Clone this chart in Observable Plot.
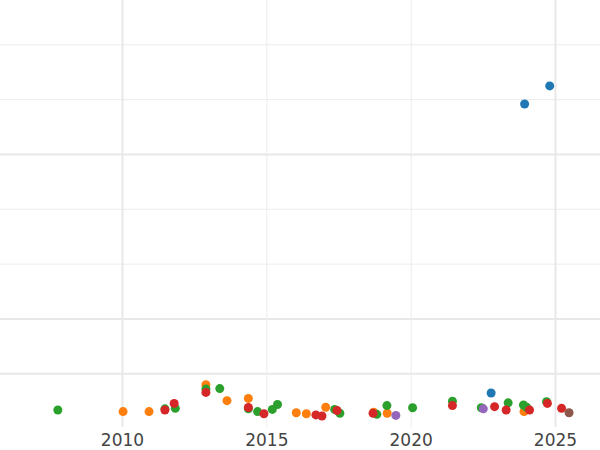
<!DOCTYPE html>
<html>
<head>
<meta charset="utf-8">
<script src="https://cdn.jsdelivr.net/npm/d3@7"></script>
<script src="https://cdn.jsdelivr.net/npm/@observablehq/plot@0.6"></script>
<style>
  html, body { margin: 0; padding: 0; background: #fff; }
  #chart { width: 600px; height: 450px; }
</style>
</head>
<body>
<div id="chart"></div>
<script>
// ---- data ----
const seriesNames = ["Series 1", "Series 2", "Series 3", "Series 4", "Series 5", "Series 6"];
const seriesColors = ["#1f77b4", "#ff7f0e", "#2ca02c", "#d62728", "#9467bd", "#8c564b"];

const s1Years  = [2022.77, 2023.93, 2024.80];
const s1Values = [0.65, 5.92, 6.25];

const s2Years  = [2010.02, 2010.92, 2012.89, 2013.62, 2014.36, 2016.02, 2016.37, 2017.04, 2018.70, 2019.17, 2023.91];
const s2Values = [0.31, 0.31, 0.80, 0.51, 0.55, 0.29, 0.27, 0.39, 0.30, 0.28, 0.31];

const s3Years  = [2007.76, 2011.47, 2011.83, 2012.89, 2013.37, 2014.36, 2014.68, 2015.19, 2015.37, 2017.35, 2017.53, 2018.81, 2019.16, 2020.05, 2021.43, 2022.43, 2023.36, 2023.89, 2024.00, 2024.69];
const s3Values = [0.34, 0.36, 0.37, 0.72, 0.73, 0.36, 0.31, 0.35, 0.44, 0.35, 0.28, 0.26, 0.42, 0.38, 0.50, 0.38, 0.47, 0.43, 0.39, 0.49];

const s4Years  = [2011.47, 2011.79, 2012.89, 2014.36, 2014.90, 2016.70, 2016.91, 2017.43, 2018.68, 2021.43, 2022.89, 2023.29, 2024.10, 2024.72, 2025.21];
const s4Values = [0.34, 0.46, 0.66, 0.385, 0.27, 0.25, 0.23, 0.33, 0.28, 0.42, 0.40, 0.34, 0.34, 0.46, 0.37];

const s5Years  = [2019.47, 2022.50];
const s5Values = [0.24, 0.36];

const s6Years  = [2025.47];
const s6Values = [0.29];

const xTicks = [2010, 2015, 2020, 2025];
const xMajorGrid = [2010, 2025];
const xMinorGrid = [2015, 2020];
const yMajorGrid = [1, 2, 5];
const yMinorGrid = [3, 4, 6, 7];

// ---- build table ----
const allYears = [s1Years, s2Years, s3Years, s4Years, s5Years, s6Years];
const allValues = [s1Values, s2Values, s3Values, s4Values, s5Values, s6Values];
const points = [];
allYears.forEach((ys, i) => {
  ys.forEach((yr, j) => points.push({series: seriesNames[i], year: yr, value: allValues[i][j]}));
});

const chart = Plot.plot({
  width: 600,
  height: 450,
  marginLeft: 0,
  marginRight: 0,
  marginTop: 0,
  marginBottom: 23,
  style: {fontFamily: "DejaVu Sans", fontSize: "17px", background: "#fff"},
  x: {domain: [2005.774, 2026.559], axis: null},
  y: {domain: [0.02, 7.808], axis: null},
  color: {domain: seriesNames, range: seriesColors},
  marks: [
    Plot.ruleY(yMinorGrid, {stroke: "#ececec", strokeWidth: 1}),
    Plot.ruleY(yMajorGrid, {stroke: "#e8e8e8", strokeWidth: 2}),
    Plot.ruleX(xMinorGrid, {stroke: "#ececec", strokeWidth: 1}),
    Plot.ruleX(xMajorGrid, {stroke: "#e8e8e8", strokeWidth: 2}),
    Plot.axisX({ticks: xTicks, tickSize: 0, tickPadding: 6, tickFormat: d => String(d), fontSize: 17, fill: "#444", label: null}),
    Plot.dot(points, {x: "year", y: "value", fill: "series", r: 4.5, stroke: "none"})
  ]
});
document.getElementById("chart").appendChild(chart);
</script>
</body>
</html>
